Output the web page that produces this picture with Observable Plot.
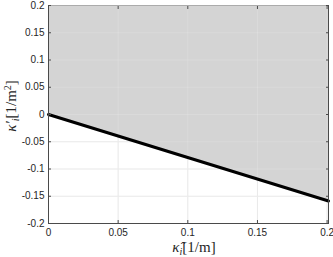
<!DOCTYPE html>
<html>
<head>
<meta charset="utf-8">
<script src="https://cdn.jsdelivr.net/npm/d3@7"></script>
<script src="https://cdn.jsdelivr.net/npm/@observablehq/plot@0.6"></script>
<style>
  html, body { margin: 0; padding: 0; background: #fff; }
  #chart svg { display: block; }
</style>
</head>
<body>
<div id="chart"></div>
<script>
// Data
const kappaHat = [0, 0.201];          // x values [1/m]
const kappaPrime = [0, -0.1588];      // y values [1/m^2]
const xTicks = [0, 0.05, 0.1, 0.15, 0.2];
const yTicks = [-0.2, -0.15, -0.1, -0.05, 0, 0.05, 0.1, 0.15, 0.2];
const xDomain = [0, 0.201];
const yDomain = [-0.2, 0.2];
const xLabel = {main: "κ̂", sub: "i", rest: "[1/m]"};
const yLabel = {main: "κ′", sub: "i", rest: "[1/m", sup: "2", end: "]"};

const data = kappaHat.map((x, i) => ({x, y: kappaPrime[i]}));

const W = 333, H = 257;
const margins = {marginLeft: 48, marginRight: 5, marginTop: 5, marginBottom: 34};
const tickFont = "Liberation Sans, Arial, sans-serif";
const fmt = d => String(d);

const plot = Plot.plot({
  width: W,
  height: H,
  ...margins,
  style: {fontFamily: tickFont, fontSize: "10px", color: "#262626", background: "#fff"},
  x: {domain: xDomain, label: null},
  y: {domain: yDomain, label: null},
  marks: [
    Plot.gridX(xTicks, {stroke: "#e6e6e6", strokeOpacity: 1}),
    Plot.gridY(yTicks, {stroke: "#e6e6e6", strokeOpacity: 1}),
    Plot.areaY(data, {x: "x", y1: "y", y2: yDomain[1], fill: "#d4d4d4"}),
    Plot.gridX(xTicks, {stroke: "#ffffff", strokeOpacity: 0.15}),
    Plot.gridY(yTicks, {stroke: "#ffffff", strokeOpacity: 0.15}),
    Plot.line(data, {x: "x", y: "y", stroke: "#000", strokeWidth: 3}),
    Plot.ruleY([yDomain[1]], {stroke: "#ababab", strokeWidth: 1}),
    Plot.ruleY([yDomain[0]], {stroke: "#4a4a4a", strokeWidth: 1}),
    Plot.ruleX([xDomain[0]], {stroke: "#4a4a4a", strokeWidth: 1}),
    Plot.ruleX([xDomain[1]], {stroke: "#4a4a4a", strokeWidth: 1}),
    Plot.axisX(xTicks, {anchor: "bottom", tickSize: -3, tickPadding: 8, tickFormat: fmt, stroke: "#4a4a4a", fill: "#262626", label: null}),
    Plot.axisX(xTicks, {anchor: "top", tickSize: -3, tickFormat: () => "", stroke: "#4a4a4a", label: null}),
    Plot.axisY(yTicks, {anchor: "left", tickSize: -3, tickPadding: 7, tickFormat: fmt, stroke: "#4a4a4a", fill: "#262626", label: null}),
    Plot.axisY(yTicks, {anchor: "right", tickSize: -3, tickFormat: () => "", stroke: "#4a4a4a", label: null})
  ]
});

document.getElementById("chart").appendChild(plot);

// Axis titles (LaTeX-like styling)
const svg = d3.select(plot);
const xs = plot.scale("x").range, ys = plot.scale("y").range;
const serif = "Liberation Serif, DejaVu Serif, serif";

const xt = svg.append("text")
  .attr("x", (xs[0] + xs[1]) / 2 + 6)
  .attr("y", H - 5)
  .attr("text-anchor", "middle")
  .attr("font-family", serif)
  .attr("font-size", 15)
  .attr("fill", "#262626");
xt.append("tspan").attr("font-style", "italic").text(xLabel.main);
xt.append("tspan").attr("font-style", "italic").attr("font-size", 10).attr("dy", 3).text(xLabel.sub);
xt.append("tspan").attr("dy", -3).text(xLabel.rest);

const yc = (ys[0] + ys[1]) / 2 - 8;
const yt = svg.append("text")
  .attr("transform", `translate(16,${yc}) rotate(-90)`)
  .attr("text-anchor", "middle")
  .attr("font-family", serif)
  .attr("font-size", 15)
  .attr("fill", "#262626");
yt.append("tspan").attr("font-style", "italic").text(yLabel.main);
yt.append("tspan").attr("font-style", "italic").attr("font-size", 10).attr("dy", 3).text(yLabel.sub);
yt.append("tspan").attr("dy", -3).text(yLabel.rest);
yt.append("tspan").attr("font-size", 10).attr("dy", -5).text(yLabel.sup);
yt.append("tspan").attr("dy", 5).text(yLabel.end);
</script>
</body>
</html>
